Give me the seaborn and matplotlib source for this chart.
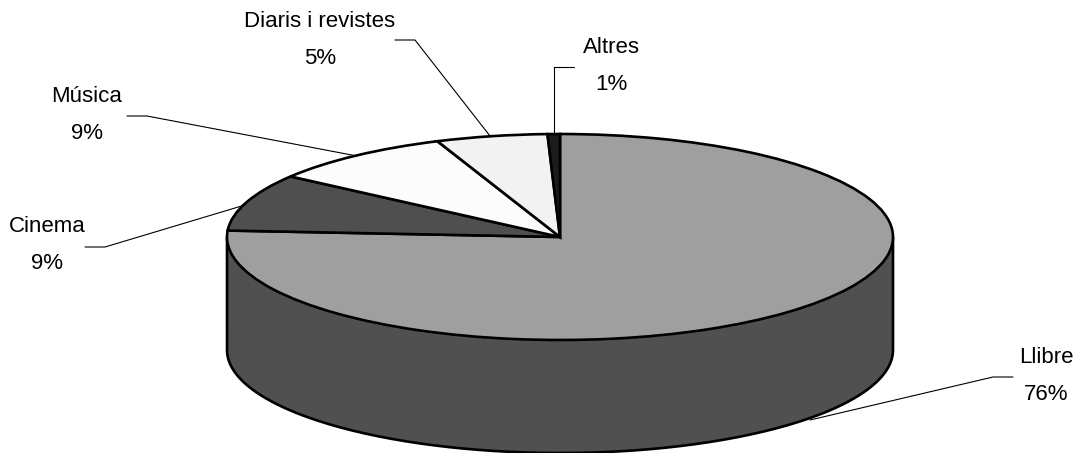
import numpy as np
import matplotlib
matplotlib.use('Agg')
import matplotlib.pyplot as plt
import seaborn as sns

# valors llegits del gràfic
categories = ['Llibre', 'Cinema', 'Música', 'Diaris i revistes', 'Altres']
percent_labels = [76, 9, 9, 5, 1]
slice_sizes = [76, 9, 9, 5.4, 0.6]
slice_colors = ['#9f9f9f', '#4f4f4f', '#fcfcfc', '#f2f2f2', '#1c1c1c']
side_color = '#505050'

W, H = 1077, 453
CX, CY, RX, RY = 560, 237, 333, 103
DEPTH = 113 / RY

sns.set_theme(style='white')
plt.rcParams['font.family'] = ['Liberation Sans', 'DejaVu Sans']


def px(x, y):
    # pixel de la imatge -> coordenades de l'eix
    return (x - CX) / RX, (CY - y) / RY


fig = plt.figure(figsize=(W / 100, H / 100), dpi=100)
ax = fig.add_axes([0, 0, 1, 1])

# cara superior
ax.pie(slice_sizes, colors=slice_colors, startangle=90, counterclock=False,
       radius=1, wedgeprops={'edgecolor': 'black', 'linewidth': 1.9, 'zorder': 2})
ax.set_aspect('auto')
ax.set_xlim(px(0, 0)[0], px(W, 0)[0])
ax.set_ylim(px(0, H)[1], px(0, 0)[1])

# lateral del cilindre
theta = np.linspace(np.pi, 2 * np.pi, 200)
ax.fill_between(np.cos(theta), np.sin(theta), np.sin(theta) - DEPTH,
                color=side_color, lw=0, zorder=1)
ax.plot(np.r_[-1, np.cos(theta), 1], np.r_[0, np.sin(theta) - DEPTH, 0],
        color='black', lw=1.9, zorder=1.5)

# etiquetes i línies guia
label_pos = [(1046, 376), (47, 245), (87, 115), (320, 40), (611, 66)]
leaders = [
    [(1013, 377), (993, 377), (810, 420)],
    [(85, 247), (105, 247), (245, 205)],
    [(127, 116), (147, 116), (357, 156)],
    [(395, 40), (415, 40), (490, 136)],
    [(574, 67), (554, 67), (554, 134)],
]
for name, pct, pos, line in zip(categories, percent_labels, label_pos, leaders):
    ax.text(*px(*pos), f'{name}\n{pct}%', ha='center', va='center',
            fontsize=16, linespacing=2.0, color='black')
    pts = np.array([px(*p) for p in line])
    ax.plot(pts[:, 0], pts[:, 1], color='black', lw=0.8, zorder=3)

fig.savefig('out.png', dpi=100, facecolor='white')
plt.close(fig)
